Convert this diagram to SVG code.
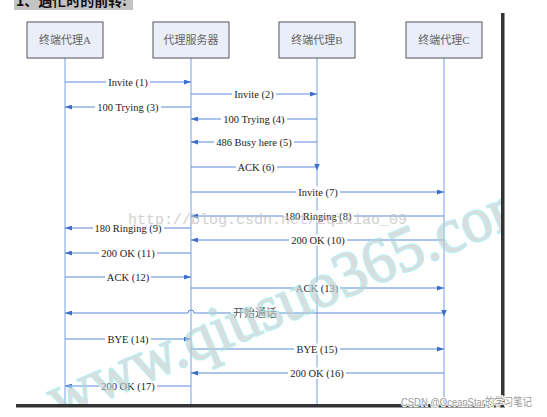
<svg xmlns="http://www.w3.org/2000/svg" width="547" height="417" viewBox="0 0 547 417">
<defs>
<style>
.box{fill:#e9eef8;stroke:#555;stroke-width:1}
.bt{font-family:"Liberation Serif","Noto Sans CJK SC",serif;font-size:11px;fill:#666;text-anchor:middle}
.life{stroke:#a9c3ee;stroke-width:1.6;fill:none}
.msg{stroke:#5a8ad8;stroke-width:1;fill:none}
.lb{font-family:"Liberation Serif","Noto Sans CJK SC",serif;font-size:10.5px;fill:#222;text-anchor:middle}
.lbg{fill:#fff}
</style>
<marker id="ar" viewBox="0 0 7 5" refX="7" refY="2.5" markerWidth="7" markerHeight="5" markerUnits="userSpaceOnUse" orient="auto-start-reverse"><path d="M0,0L7,2.5L0,5z" fill="#3b6fcc"/></marker>
<marker id="ad" viewBox="0 0 7 6" refX="3.5" refY="3" markerWidth="7" markerHeight="6" markerUnits="userSpaceOnUse" orient="90"><path d="M0,0L7,3L0,6z" fill="#3b6fcc"/></marker>
<clipPath id="fr"><rect x="16" y="13" width="486" height="392"/></clipPath>
</defs>
<rect width="547" height="417" fill="#fff"/>
<g id="title">
<rect x="14" y="0" width="119" height="10" fill="#c3c3c3"/>
<text x="16" y="6" font-family="Noto Sans CJK SC,sans-serif" font-size="14" font-weight="bold" fill="#111">1、遇忙时的前转:</text>
</g>
<g id="nodeA"><line class="life" x1="65" y1="58" x2="65" y2="404"/><rect class="box" x="27" y="22" width="76" height="36"/><text class="bt" x="65" y="44">终端代理A</text></g>
<g id="nodeS"><line class="life" x1="191" y1="58" x2="191" y2="404"/><rect class="box" x="153" y="22" width="76" height="36"/><text class="bt" x="191" y="44">代理服务器</text></g>
<g id="nodeB"><line class="life" x1="317" y1="58" x2="317" y2="404"/><rect class="box" x="279" y="22" width="76" height="36"/><text class="bt" x="317" y="44">终端代理B</text></g>
<g id="nodeC"><line class="life" x1="444" y1="58" x2="444" y2="404"/><rect class="box" x="406" y="22" width="76" height="36"/><text class="bt" x="444" y="44">终端代理C</text></g>
<g id="connectors">
<path class="msg" d="M65,82H191" marker-end="url(#ar)"/>
<path class="msg" d="M191,94H317" marker-end="url(#ar)"/>
<path class="msg" d="M191,107H65" marker-end="url(#ar)"/>
<path class="msg" d="M317,119H191" marker-end="url(#ar)"/>
<path class="msg" d="M317,142H191" marker-end="url(#ar)"/>
<path class="msg" d="M191,167H317" marker-end="url(#ad)"/>
<path class="msg" d="M191,192H444" marker-end="url(#ar)"/>
<path class="msg" d="M444,216H191" marker-end="url(#ar)"/>
<path class="msg" d="M191,228H65" marker-end="url(#ar)"/>
<path class="msg" d="M444,240H191" marker-end="url(#ar)"/>
<path class="msg" d="M191,253H65" marker-end="url(#ar)"/>
<path class="msg" d="M65,277H191" marker-end="url(#ar)"/>
<path class="msg" d="M191,288H444" marker-end="url(#ar)"/>
<path class="msg" d="M65,313H188a3,3 0 0 1 6,0H444" marker-start="url(#ar)" marker-end="url(#ad)"/>
<path class="msg" d="M65,339H191" marker-end="url(#ar)"/>
<path class="msg" d="M191,349H444" marker-end="url(#ar)"/>
<path class="msg" d="M444,373H191" marker-end="url(#ar)"/>
<path class="msg" d="M191,386H65" marker-end="url(#ar)"/>
<g class="lbg">
<rect x="106" y="76.5" width="44" height="11"/>
<rect x="232" y="88.5" width="44" height="11"/>
<rect x="95" y="101.5" width="66" height="11"/>
<rect x="221" y="113.5" width="66" height="11"/>
<rect x="214" y="136.5" width="80" height="11"/>
<rect x="236" y="161.5" width="41" height="11"/>
<rect x="296" y="186.5" width="44" height="11"/>
<rect x="283" y="210.5" width="71" height="11"/>
<rect x="93" y="222.5" width="71" height="11"/>
<rect x="289" y="234.5" width="58" height="11"/>
<rect x="99" y="247.5" width="58" height="11"/>
<rect x="105" y="271.5" width="46" height="11"/>
<rect x="294" y="282.5" width="46" height="11"/>
<rect x="231" y="307" width="48" height="12"/>
<rect x="105" y="333.5" width="46" height="11"/>
<rect x="294" y="343.5" width="46" height="11"/>
<rect x="288" y="367.5" width="58" height="11"/>
<rect x="99" y="380.5" width="58" height="11"/>
</g>
<text class="lb" x="128" y="85.7">Invite (1)</text>
<text class="lb" x="254" y="97.7">Invite (2)</text>
<text class="lb" x="128" y="110.7">100 Trying (3)</text>
<text class="lb" x="254" y="122.7">100 Trying (4)</text>
<text class="lb" x="254" y="145.7">486 Busy here (5)</text>
<text class="lb" x="256" y="170.7">ACK (6)</text>
<text class="lb" x="318" y="195.7">Invite (7)</text>
<text class="lb" x="318" y="219.7">180 Ringing (8)</text>
<text class="lb" x="128" y="231.7">180 Ringing (9)</text>
<text class="lb" x="318" y="243.7">200 OK (10)</text>
<text class="lb" x="128" y="256.7">200 OK (11)</text>
<text class="lb" x="128" y="280.7">ACK (12)</text>
<text class="lb" x="317" y="291.7">ACK (13)</text>
<text class="lb" x="255" y="317" style="font-size:11px;fill:#555">开始通话</text>
<text class="lb" x="128" y="342.7">BYE (14)</text>
<text class="lb" x="317" y="352.7">BYE (15)</text>
<text class="lb" x="317" y="376.7">200 OK (16)</text>
<text class="lb" x="128" y="389.7">200 OK (17)</text>
</g>
<g id="watermarks">
<text x="128" y="224" font-family="Liberation Mono,monospace" font-size="15" fill="#bdbdbd" opacity="0.7">http://blog.csdn.net/zqixiao_09</text>
<g clip-path="url(#fr)">
<text transform="translate(58,420) rotate(-23)" font-family="Liberation Serif,serif" font-size="64" fill="#c4cccc" stroke="#8fecf3" stroke-width="2" paint-order="stroke" opacity="0.65" textLength="525" lengthAdjust="spacingAndGlyphs">www.qiusuo365.com</text>
</g>
</g>
<g id="frame">
<rect x="501" y="13" width="3" height="394" fill="#333"/>
<rect x="504" y="13" width="1" height="394" fill="#999"/>
<rect x="16" y="404" width="488" height="3" fill="#333"/>
<rect x="16" y="407" width="489" height="1" fill="#999"/>
</g>
<text x="401" y="406" font-family="Liberation Sans,Noto Sans CJK SC,sans-serif" font-size="11" fill="#999" stroke="#fff" stroke-width="2" paint-order="stroke" textLength="131" lengthAdjust="spacingAndGlyphs">CSDN @OceanStar的学习笔记</text>
</svg>
